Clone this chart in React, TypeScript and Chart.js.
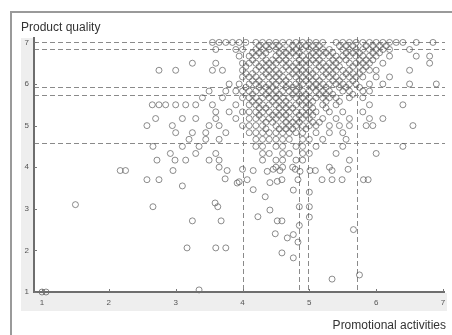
import { useEffect, useRef } from "react";
import { Chart, registerables } from "chart.js";

Chart.register(...registerables);

// Axis ticks
const X_TICKS = [1, 2, 3, 4, 5, 6, 7];
const Y_TICKS = [1, 2, 3, 4, 5, 6, 7];

// Dashed reference lines (Product quality levels, Promotional activities levels)
const H_LINES = [7.0, 6.83, 5.93, 5.74, 4.59];
const V_LINES = [4.0, 4.85, 4.98, 5.71];

// Respondents grouped by Product quality score; each row lists the Promotional activities scores
const ROW_Y = [
  7.0, 6.92, 6.83, 6.75, 6.67, 6.58, 6.5, 6.42, 6.33, 6.25, 6.17, 6.08, 6.0, 5.92, 5.83, 5.75, 5.67, 5.58,
  5.5, 5.42, 5.33, 5.25, 5.17, 5.08, 5.0, 4.92, 4.83, 4.67, 4.5, 4.33, 4.17, 4.0,
];
const ROW_X: number[][] = [
  [3.55, 3.65, 3.75, 3.85, 3.95, 4.05, 4.2, 4.3, 4.4, 4.5, 4.6, 4.7, 4.8, 4.9, 5.0, 5.1, 5.2, 5.4, 5.5, 5.6, 5.7, 5.8, 5.9, 6.0, 6.1, 6.2, 6.3, 6.4, 6.6, 6.85],
  [4.25, 4.35, 4.45, 4.55, 4.75, 4.85, 4.95, 5.05, 5.15, 5.45, 5.55, 5.65, 5.85, 5.95, 6.05, 6.15],
  [3.6, 3.9, 4.0, 4.2, 4.3, 4.4, 4.5, 4.6, 4.7, 4.8, 4.9, 5.0, 5.1, 5.2, 5.3, 5.5, 5.6, 5.7, 5.8, 5.9, 6.0, 6.1, 6.2, 6.5],
  [4.15, 4.25, 4.35, 4.55, 4.65, 4.75, 4.85, 5.05, 5.15, 5.25, 5.35, 5.55, 5.65, 5.75, 5.95, 6.05],
  [3.95, 4.1, 4.2, 4.3, 4.5, 4.6, 4.7, 4.8, 4.9, 5.0, 5.1, 5.2, 5.3, 5.4, 5.5, 5.6, 5.7, 5.8, 5.9, 6.0, 6.2, 6.6, 6.8],
  [4.15, 4.35, 4.45, 4.55, 4.65, 4.85, 4.95, 5.05, 5.15, 5.35, 5.45, 5.55, 5.75, 5.85, 5.95],
  [3.25, 3.6, 4.0, 4.1, 4.2, 4.3, 4.4, 4.5, 4.6, 4.7, 4.8, 4.9, 5.0, 5.1, 5.2, 5.3, 5.4, 5.6, 5.7, 5.8, 5.9, 6.1, 6.8],
  [4.05, 4.25, 4.35, 4.45, 4.65, 4.75, 4.85, 4.95, 5.15, 5.25, 5.35, 5.45, 5.65, 5.75, 5.85],
  [2.75, 3.0, 3.55, 3.7, 4.0, 4.2, 4.3, 4.4, 4.5, 4.6, 4.7, 4.8, 4.9, 5.0, 5.1, 5.2, 5.3, 5.4, 5.5, 5.6, 5.8, 5.9, 6.0, 6.5],
  [4.05, 4.15, 4.35, 4.45, 4.55, 4.75, 4.85, 4.95, 5.05, 5.25, 5.35, 5.55, 5.65, 5.75],
  [4.0, 4.1, 4.2, 4.3, 4.4, 4.5, 4.6, 4.7, 4.8, 4.9, 5.0, 5.1, 5.2, 5.3, 5.4, 5.5, 5.6, 5.7, 5.8, 6.0, 6.2],
  [4.15, 4.25, 4.45, 4.55, 4.65, 4.85, 4.95, 5.05, 5.15, 5.35, 5.45, 5.65],
  [3.8, 3.95, 4.1, 4.2, 4.3, 4.4, 4.5, 4.6, 4.7, 4.8, 4.9, 5.0, 5.1, 5.2, 5.3, 5.4, 5.5, 5.6, 5.7, 5.9, 6.1, 6.5, 6.9],
  [4.05, 4.25, 4.35, 4.45, 4.65, 4.75, 4.85, 5.05, 5.15, 5.25, 5.45, 5.55, 5.75],
  [3.5, 3.75, 3.9, 4.0, 4.1, 4.2, 4.3, 4.4, 4.5, 4.6, 4.7, 4.8, 4.9, 5.0, 5.1, 5.2, 5.3, 5.5, 5.6, 5.8, 5.9],
  [4.15, 4.35, 4.45, 4.55, 4.75, 4.85, 4.95, 5.15, 5.25, 5.35, 5.65],
  [3.4, 3.7, 4.0, 4.1, 4.2, 4.3, 4.4, 4.5, 4.6, 4.7, 4.8, 4.9, 5.0, 5.1, 5.2, 5.3, 5.4, 5.6, 5.8],
  [4.15, 4.25, 4.45, 4.55, 4.65, 4.85, 4.95, 5.05, 5.25, 5.45],
  [2.65, 2.75, 2.85, 3.0, 3.15, 3.3, 3.55, 3.9, 4.1, 4.2, 4.3, 4.4, 4.5, 4.6, 4.7, 4.8, 4.9, 5.0, 5.2, 5.4, 5.9, 6.4],
  [4.25, 4.35, 4.55, 4.65, 4.75, 4.95, 5.05, 5.25],
  [3.6, 3.8, 4.0, 4.1, 4.2, 4.3, 4.4, 4.5, 4.6, 4.7, 4.8, 4.9, 5.0, 5.1, 5.3, 5.5, 5.8],
  [4.25, 4.45, 4.55, 4.65, 4.85, 4.95, 5.05],
  [2.7, 3.1, 3.3, 3.6, 3.9, 4.1, 4.2, 4.3, 4.4, 4.5, 4.6, 4.7, 4.8, 4.9, 5.0, 5.2, 5.4, 5.6, 5.9, 6.1],
  [4.35, 4.45, 4.65, 4.75, 4.85, 5.05, 5.15],
  [2.57, 2.95, 3.5, 3.65, 4.0, 4.1, 4.2, 4.3, 4.5, 4.6, 4.7, 4.8, 4.9, 5.0, 5.1, 5.3, 5.45, 5.6, 5.85, 5.95, 6.55],
  [4.35, 4.55, 4.65, 4.75, 4.95],
  [3.0, 3.25, 3.45, 3.75, 4.1, 4.2, 4.3, 4.4, 4.5, 4.6, 4.7, 4.8, 4.9, 5.1, 5.3, 5.5],
  [3.2, 3.45, 3.65, 4.2, 4.3, 4.4, 4.5, 4.6, 4.7, 4.9, 5.0, 5.2, 5.55],
  [2.66, 3.1, 3.35, 4.2, 4.3, 4.5, 4.6, 4.8, 4.9, 5.1, 5.5, 6.4],
  [2.92, 3.3, 3.6, 4.3, 4.4, 4.6, 4.7, 4.9, 5.0, 5.4, 6.0],
  [2.72, 2.99, 3.15, 3.5, 3.65, 4.3, 4.5, 4.6, 4.8, 4.9, 5.6],
  [3.65, 4.5, 4.6, 4.75, 5.3],
];

// Remaining respondents (Promotional activities, Product quality)
const SPARSE_X = [
  1.0, 1.06, 1.5, 2.17, 2.25, 2.96, 3.77, 4.0, 4.16, 4.37, 4.46, 4.56, 4.79, 4.86, 5.01, 5.09, 5.34, 5.58,
  2.57, 2.75, 3.74, 3.95, 4.07, 4.41, 4.52, 4.59, 4.83, 5.19, 5.34, 5.49, 5.81, 5.88,
  3.1, 4.16, 4.34, 4.76, 5.0, 3.92, 2.66, 3.59, 3.63, 4.41, 4.23, 5.0, 3.25, 3.68, 4.52, 4.59,
  5.66, 4.49, 4.67, 4.76, 4.83, 3.17, 3.6, 3.75, 4.59, 4.76, 5.34, 5.75, 3.35, 4.85, 4.85, 5.0,
];
const SPARSE_Y = [
  1.0, 1.0, 3.1, 3.92, 3.92, 3.92, 3.92, 3.95, 3.92, 3.9, 3.95, 3.92, 3.95, 3.9, 3.92, 3.92, 3.92, 3.95,
  3.7, 3.7, 3.72, 3.65, 3.7, 3.63, 3.66, 3.7, 3.7, 3.7, 3.7, 3.7, 3.7, 3.7,
  3.55, 3.46, 3.29, 3.45, 3.4, 3.62, 3.05, 3.14, 3.05, 2.97, 2.81, 2.8, 2.71, 2.71, 2.71, 2.71,
  2.5, 2.4, 2.3, 2.38, 2.2, 2.06, 2.06, 2.06, 1.94, 1.82, 1.31, 1.41, 1.05, 2.6, 3.05, 3.05,
];

const X_TITLE = "Promotional activities";
const Y_TITLE = "Product quality";

const FONT = '"Liberation Sans", Arial, sans-serif';

const framePlugin = {
  id: "frame",
  beforeDraw(chart: any) {
    const { ctx, chartArea } = chart;
    const { left, right, bottom, top } = chartArea;
    ctx.save();
    ctx.fillStyle = "#ffffff";
    ctx.fillRect(0, 0, chart.width, chart.height);
    // outer panel border
    ctx.strokeStyle = "#9a9a9a";
    ctx.lineWidth = 2;
    ctx.beginPath();
    ctx.moveTo(11, chart.height);
    ctx.lineTo(11, 12);
    ctx.lineTo(chart.width, 12);
    ctx.stroke();
    // tick label bands
    ctx.fillStyle = "#eeeeee";
    ctx.fillRect(21, bottom + 1, right + 2 - 21, 18);
    ctx.fillRect(21, top + 1, left - 21, bottom + 19 - top - 1);
    ctx.restore();
  },
  beforeDatasetsDraw(chart: any) {
    const { ctx, chartArea, scales } = chart;
    ctx.save();
    ctx.strokeStyle = "#8a8a8a";
    ctx.lineWidth = 1;
    ctx.setLineDash([5, 3]);
    H_LINES.forEach((v) => {
      const y = Math.round(scales.y.getPixelForValue(v)) + 0.5;
      ctx.beginPath();
      ctx.moveTo(chartArea.left, y);
      ctx.lineTo(chartArea.right, y);
      ctx.stroke();
    });
    V_LINES.forEach((v) => {
      const x = Math.round(scales.x.getPixelForValue(v)) + 0.5;
      ctx.beginPath();
      ctx.moveTo(x, chartArea.top);
      ctx.lineTo(x, chartArea.bottom);
      ctx.stroke();
    });
    ctx.restore();
  },
  afterDatasetsDraw(chart: any) {
    const { ctx, chartArea, scales } = chart;
    const { left, right, top, bottom } = chartArea;
    ctx.save();
    // axes
    ctx.strokeStyle = "#6e6e6e";
    ctx.lineWidth = 2;
    ctx.beginPath();
    ctx.moveTo(left, top);
    ctx.lineTo(left, bottom);
    ctx.lineTo(right, bottom);
    ctx.stroke();
    // inward ticks
    ctx.lineWidth = 1;
    ctx.strokeStyle = "#777777";
    X_TICKS.forEach((v) => {
      const x = Math.round(scales.x.getPixelForValue(v)) + 0.5;
      ctx.beginPath();
      ctx.moveTo(x, bottom);
      ctx.lineTo(x, bottom - 3);
      ctx.stroke();
    });
    Y_TICKS.forEach((v) => {
      const y = Math.round(scales.y.getPixelForValue(v)) + 0.5;
      ctx.beginPath();
      ctx.moveTo(left, y);
      ctx.lineTo(left + 3, y);
      ctx.stroke();
    });
    // tick labels
    ctx.fillStyle = "#555555";
    ctx.font = `8px ${FONT}`;
    ctx.textAlign = "center";
    ctx.textBaseline = "middle";
    X_TICKS.forEach((v) => {
      ctx.fillText(String(v), scales.x.getPixelForValue(v), bottom + 11);
    });
    ctx.textAlign = "right";
    Y_TICKS.forEach((v) => {
      ctx.fillText(String(v), left - 5, scales.y.getPixelForValue(v));
    });
    // axis titles
    ctx.fillStyle = "#333333";
    ctx.font = `12px ${FONT}`;
    ctx.textAlign = "left";
    ctx.textBaseline = "alphabetic";
    ctx.fillText(Y_TITLE, 21, 31);
    ctx.textAlign = "right";
    ctx.fillText(X_TITLE, 446, 329);
    ctx.restore();
  },
};

export default function App() {
  const canvasRef = useRef<HTMLCanvasElement | null>(null);

  useEffect(() => {
    if (!canvasRef.current) return;
    const points: { x: number; y: number }[] = [];
    ROW_X.forEach((xs, i) => xs.forEach((x) => points.push({ x, y: ROW_Y[i] })));
    SPARSE_X.forEach((x, i) => points.push({ x, y: SPARSE_Y[i] }));

    const chart = new Chart(canvasRef.current, {
      type: "scatter",
      data: {
        datasets: [
          {
            data: points,
            pointStyle: "circle",
            pointRadius: 3,
            pointHoverRadius: 3,
            pointBorderWidth: 1,
            pointBorderColor: "rgba(80,80,80,0.65)",
            pointBackgroundColor: "rgba(255,255,255,0)",
            clip: false as any,
          },
        ],
      },
      options: {
        animation: false,
        responsive: false,
        devicePixelRatio: 1,
        layout: { padding: { left: 34, right: 7, top: 37, bottom: 43 } },
        scales: {
          x: { type: "linear", min: 0.88, max: 7.03, display: false },
          y: { type: "linear", min: 1, max: 7.13, display: false },
        },
        plugins: {
          legend: { display: false },
          tooltip: { enabled: false },
        },
        events: [],
      },
      plugins: [framePlugin],
    });
    return () => chart.destroy();
  }, []);

  return (
    <div style={{ position: "fixed", left: 0, top: 0, width: 452, height: 335, background: "#fff" }}>
      <canvas ref={canvasRef} width={452} height={335} style={{ width: 452, height: 335, display: "block" }} />
    </div>
  );
}
